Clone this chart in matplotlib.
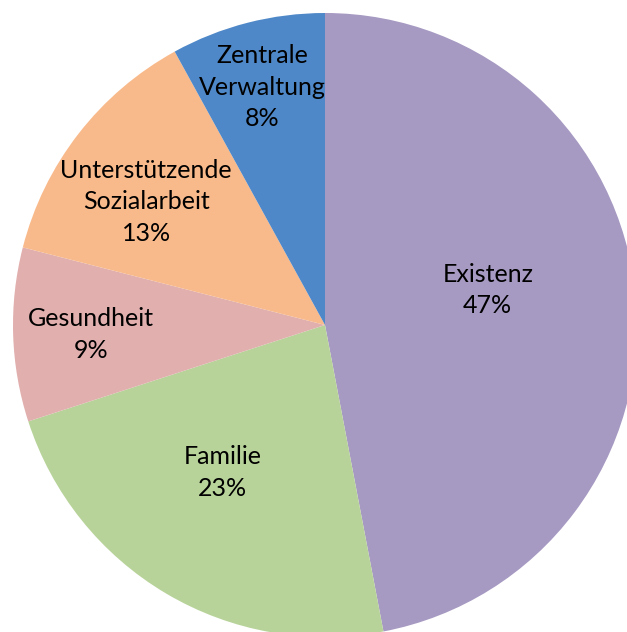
import matplotlib
matplotlib.use("Agg")
import matplotlib.pyplot as plt
import numpy as np

categories = ["Existenz", "Familie", "Gesundheit", "Unterstützende\nSozialarbeit", "Zentrale\nVerwaltung"]
values = [47, 23, 9, 13, 8]
colors = ["#A699C2", "#B8D39A", "#E0AFAE", "#F9BA8B", "#4F88C8"]

# label placement (layout): radius fraction and angle offset from wedge middle (deg)
label_r = [0.535, 0.57, 0.75, 0.70, 0.795]
label_dang = [7.4, -4.5, 0.0, 2.8, 0.3]

W, H = 627, 632
fig = plt.figure(figsize=(W / 100, H / 100), dpi=100)
ax = fig.add_axes([0, 0, 1, 1])
R = 312.0
cx, cy = 325.0, 325.0

wedges, _ = ax.pie(values, colors=colors, startangle=90, counterclock=False,
                   radius=1.0, center=(0, 0), wedgeprops=dict(linewidth=0))
ax.set_xlim(-cx / R, (W - cx) / R)
ax.set_ylim(-(H - cy) / R, cy / R)
ax.set_aspect("auto")
ax.axis("off")

total = sum(values)
for w, cat, v, r, da in zip(wedges, categories, values, label_r, label_dang):
    mid = np.deg2rad((w.theta1 + w.theta2) / 2 + da)
    x, y = r * np.cos(mid), r * np.sin(mid) - 2.0 / R
    ax.text(x, y, f"{cat}\n{round(100 * v / total)}%", ha="center", va="center",
            fontsize=18, family=["Lato", "DejaVu Sans"], color="black", linespacing=1.45)

fig.savefig("out.png", dpi=100)
